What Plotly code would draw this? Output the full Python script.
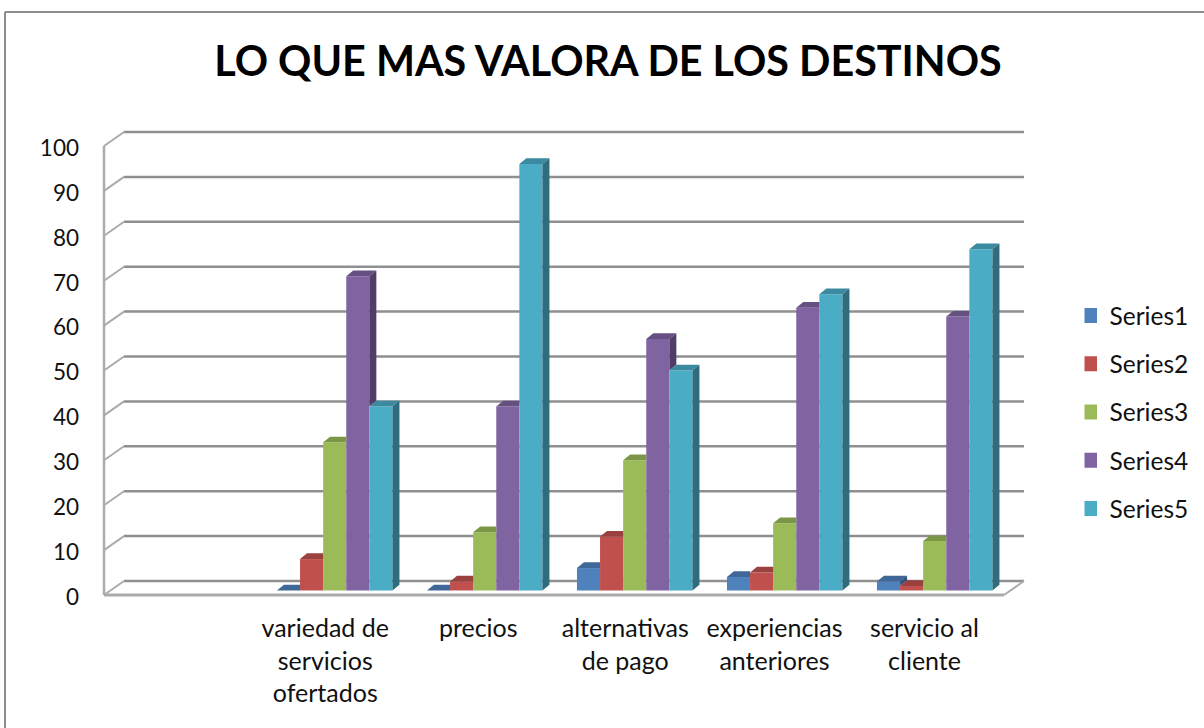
import plotly.graph_objects as go

categories = ["variedad de<br>servicios<br>ofertados", "precios", "alternativas<br>de pago",
              "experiencias<br>anteriores", "servicio al<br>cliente"]
label_positions = [1.475, 2.495, 3.475, 4.47, 5.47]
series_names = ["Series1", "Series2", "Series3", "Series4", "Series5"]
series1 = [0, 0, 5, 3, 2]
series2 = [7, 2, 12, 4, 1]
series3 = [33, 13, 29, 15, 11]
series4 = [70, 41, 56, 63, 61]
series5 = [41, 95, 49, 66, 76]
all_series = [series1, series2, series3, series4, series5]
y_ticks = list(range(0, 101, 10))

front_colors = ["#4F81BD", "#C0504D", "#9BBB59", "#8064A2", "#4BACC6"]
top_colors = ["#3F6797", "#9A403E", "#7C9647", "#665082", "#3C8A9F"]
side_colors = ["#31507A", "#773130", "#60743A", "#503E66", "#2F6C7D"]
GRID = "#8F8F8F"
FRONT = "#ABABAB"

W, H = 1204, 728
L, R, T, B = 100, 1030, 128, 599   # plot area in page pixels
X0, UX = 104, 150                  # pixel of x=0, pixels per category slot
Y0, UY = 595, 4.49                 # pixel of y=0, pixels per value unit
xrange_ = [(L - X0) / UX, (R - X0) / UX]
yrange_ = [(Y0 - B) / UY, (Y0 - T) / UY]

wall_dx, wall_dy = 20 / UX, 14 / UY   # depth of the chart box
bar_dx, bar_dy = 7 / UX, 5.7 / UY     # depth of a column
floor = 4.5 / UY                      # columns stand slightly behind the front edge
bar_w = 23.1 / UX
first_off = 0.153
n_slots = 6


def px(x):
    return (x - L) / (R - L)


def py(y):
    return (B - y) / (B - T)


fig = go.Figure()
shapes = []


def line(x0, y0, x1, y1, color, width=2):
    shapes.append(dict(type="line", xref="x", yref="y", x0=x0, y0=y0, x1=x1, y1=y1,
                       layer="below", line=dict(color=color, width=width)))


for t in y_ticks:
    line(wall_dx, t + wall_dy, n_slots + wall_dx, t + wall_dy, GRID, 2.5)
    line(0, t, wall_dx, t + wall_dy, FRONT)
line(0, 0, 0, y_ticks[-1], FRONT, 2.5)
line(0, 0, n_slots, 0, FRONT, 3)
line(n_slots, 0, n_slots + wall_dx, wall_dy, FRONT)

# outer chart-area border
shapes.append(dict(type="line", xref="paper", yref="paper", x0=px(5), x1=px(5), y0=py(12), y1=py(H),
                   line=dict(color="#8C8C8C", width=2)))
shapes.append(dict(type="line", xref="paper", yref="paper", x0=px(5), x1=px(W), y0=py(12), y1=py(12),
                   line=dict(color="#8C8C8C", width=2)))

for s, vals in enumerate(all_series):
    nxt = all_series[s + 1] if s + 1 < len(all_series) else None
    lefts = [i + 1 + first_off + s * bar_w for i in range(len(vals))]
    fig.add_trace(go.Bar(x=[l + bar_w / 2 for l in lefts], y=vals, base=floor, width=bar_w,
                         marker=dict(color=front_colors[s], line=dict(width=0)),
                         showlegend=False, hoverinfo="skip"))
    tx, ty, sx, sy = [], [], [], []
    for i, v in enumerate(vals):
        xl, xr = lefts[i], lefts[i] + bar_w
        h = v + floor
        vn = nxt[i] if nxt else None
        if vn is not None and vn > v:
            tx += [xl, xr, xr, xl + bar_dx, xl, None]
            ty += [h, h, h + bar_dy, h + bar_dy, h, None]
        else:
            tx += [xl, xr, xr + bar_dx, xl + bar_dx, xl, None]
            ty += [h, h, h + bar_dy, h + bar_dy, h, None]
        if vn is None or vn < v:
            low = floor + (vn or 0)
            sx += [xr, xr + bar_dx, xr + bar_dx, xr, xr, None]
            sy += [h, h + bar_dy, low + bar_dy, low, h, None]
    for xs, ys, c in ((tx, ty, top_colors[s]), (sx, sy, side_colors[s])):
        if xs:
            fig.add_trace(go.Scatter(x=xs, y=ys, mode="none", fill="toself", fillcolor=c,
                                     showlegend=False, hoverinfo="skip"))

for s, name in enumerate(series_names):
    fig.add_trace(go.Scatter(x=[None], y=[None], mode="markers", name=name, legendgroup=name,
                             marker=dict(symbol="square", size=15, color=front_colors[s])))

fig.update_layout(
    width=W, height=H, autosize=False, barmode="overlay",
    margin=dict(l=L, r=W - R, t=T, b=H - B, pad=0, autoexpand=False),
    paper_bgcolor="white", plot_bgcolor="white",
    font=dict(family="Lato", color="#111111"),
    title=dict(text="<b>LO QUE MAS VALORA DE LOS DESTINOS</b>", x=608 / W, y=1 - 62 / H,
               xanchor="center", yanchor="middle", xref="container", yref="container",
               font=dict(size=41.3, family="Lato", color="#000000")),
    xaxis=dict(range=xrange_, showgrid=False, zeroline=False, showline=False, ticks="", automargin=False,
               tickmode="array", tickvals=label_positions,
               ticktext=categories,
               tickangle=0, tickfont=dict(size=25, family="Lato", color="#111111"),
               ticklabelstandoff=12),
    yaxis=dict(range=yrange_, showgrid=False, zeroline=False, showline=False, ticks="", automargin=False,
               tickmode="array", tickvals=y_ticks, ticktext=[str(t) for t in y_ticks],
               tickfont=dict(size=22.5, family="Lato", color="#111111"), ticklabelstandoff=20,
               ticklabelshift=2),
    legend=dict(x=px(1084.5), y=py(293), xanchor="left", yanchor="top", xref="paper", yref="paper",
                font=dict(size=24.5, family="Lato", color="#111111"), tracegroupgap=13.4,
                indentation=-15,
                traceorder="grouped", bgcolor="rgba(0,0,0,0)", borderwidth=0, itemclick=False),
    shapes=shapes,
)

fig.write_html("out.html", config=dict(displayModeBar=False),
               post_script="document.body.style.margin='0';document.documentElement.style.overflow='hidden';")
